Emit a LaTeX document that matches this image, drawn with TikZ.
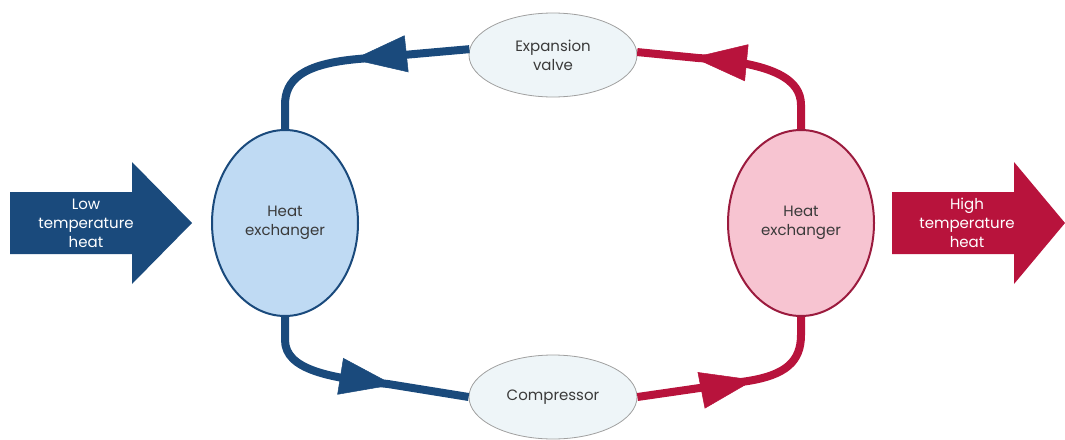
\documentclass[tikz,border=0pt]{standalone}
\usepackage{fontspec}
\setmainfont{Poppins}
\usetikzlibrary{shapes.geometric,arrows.meta,decorations.markings}
\definecolor{navy}{HTML}{1A4A7C}
\definecolor{crim}{HTML}{B8133C}
\definecolor{lblue}{HTML}{BFDAF3}
\definecolor{lpink}{HTML}{F7C4D1}
\definecolor{pale}{HTML}{EEF5F8}
\definecolor{txt}{HTML}{3A3A3A}
\definecolor{darkred}{HTML}{9B1B3E}
\definecolor{greyline}{HTML}{A0A0A0}
\begin{document}
\begin{tikzpicture}[x=1pt,y=-1pt,
  lbl/.style={font=\fontsize{15}{19}\selectfont, align=center, text=txt},
  hx/.style={ellipse, draw, line width=2pt, minimum width=146pt, minimum height=186pt, inner sep=0pt, lbl},
  comp/.style={ellipse, draw=greyline, line width=0.8pt, fill=pale, minimum width=168pt, minimum height=84pt, inner sep=0pt, lbl},
  flow/.style={line width=8pt, line join=round},
  tipat/.style={postaction={decorate}, decoration={markings, mark=at position #1 with {\arrow{Triangle[length=54pt,width=37pt,line width=0.5pt]}}}},
  heatlbl/.style={lbl, text=white}
]
\useasboundingbox (0,0) rectangle (1065,439);
% heat arrows
\fill[navy] (10,192) -- (132,192) -- (132,162) -- (192,223) -- (132,284) -- (132,254) -- (10,254) -- cycle;
\node[heatlbl] (lowheat) at (86,223) {Low\\temperature\\heat};
\fill[crim] (892,192) -- (1014,192) -- (1014,162) -- (1065,223) -- (1014,284) -- (1014,254) -- (892,254) -- cycle;
\node[heatlbl] (highheat) at (967,223) {High\\temperature\\heat};
% components
\node[hx, draw=navy, fill=lblue] (lhx) at (285,223) {Heat\\exchanger};
\node[hx, draw=darkred, fill=lpink] (rhx) at (801,223) {Heat\\exchanger};
\node[comp] (ev) at (553,55) {Expansion\\valve};
\node[comp] (cp) at (553,397) {Compressor};
% connectors
\draw[flow, navy, tipat=117pt] (ev.176) -- (358,59) .. controls (302,64) and (285,80) .. (285,105) -- (lhx.north);
\draw[flow, navy, tipat=-76pt] (lhx.south) -- (285,340) .. controls (285,370) and (330,378) .. (388,384) -- (cp.west);
\draw[flow, crim, tipat=118pt] (cp.east) -- (748,381) .. controls (785,375) and (801,362) .. (801,335) -- (rhx.south);
\draw[flow, crim, tipat=-56pt] (rhx.north) -- (801,105) .. controls (801,80) and (775,63) .. (698,58) -- (ev.2);
\end{tikzpicture}
\end{document}
